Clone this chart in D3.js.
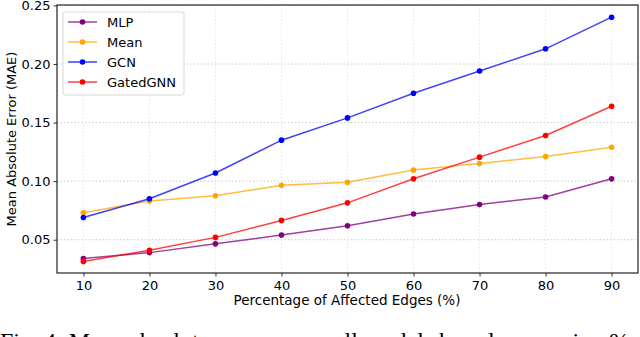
<!DOCTYPE html>
<html>
<head>
<meta charset="utf-8">
<script src="https://cdn.jsdelivr.net/npm/d3@7"></script>
<style>
  body { margin: 0; background: #fff; }
  svg { display: block; }
</style>
</head>
<body>
<div id="chart"></div>
<script>
var edges = [10, 20, 30, 40, 50, 60, 70, 80, 90];
var mlp = [0.034, 0.039, 0.0465, 0.054, 0.062, 0.072, 0.080, 0.0865, 0.102];
var mean = [0.073, 0.083, 0.0875, 0.0965, 0.099, 0.1095, 0.115, 0.121, 0.129];
var gcn = [0.069, 0.085, 0.107, 0.135, 0.154, 0.175, 0.194, 0.213, 0.240];
var gated = [0.0315, 0.041, 0.052, 0.0665, 0.0815, 0.102, 0.1205, 0.139, 0.164];
var seriesNames = ["MLP", "Mean", "GCN", "GatedGNN"];
var seriesColors = ["#800080", "#ffa500", "#0000ff", "#ff0000"];
var yTicks = [0.05, 0.10, 0.15, 0.20, 0.25];

var width = 640, height = 337;
var mLeft = 57, mRight = 638, mTop = 5, mBottom = 273;

var svg = d3.select("#chart").append("svg")
  .attr("width", width).attr("height", height)
  .style("font-family", "DejaVu Sans");

var x = d3.scaleLinear().domain([6, 94]).range([mLeft, mRight]);
var y = d3.scaleLinear().domain([0.0216, 0.2504]).range([mBottom, mTop]);

// grid
svg.append("g").selectAll("line").data(yTicks).enter().append("line")
  .attr("x1", mLeft).attr("x2", mRight)
  .attr("y1", function(d) { return y(d); }).attr("y2", function(d) { return y(d); })
  .attr("stroke", "#cccccc").attr("stroke-width", 1).attr("stroke-dasharray", "1.5,2");
svg.append("g").selectAll("line").data(edges).enter().append("line")
  .attr("y1", mTop).attr("y2", mBottom)
  .attr("x1", function(d) { return x(d); }).attr("x2", function(d) { return x(d); })
  .attr("stroke", "#e6e6e6").attr("stroke-width", 1).attr("stroke-dasharray", "1.5,2");

// axes
var xAxis = svg.append("g").attr("transform", "translate(0," + mBottom + ")")
  .call(d3.axisBottom(x).tickValues(edges).tickSize(3.5).tickPadding(4));
var yAxis = svg.append("g").attr("transform", "translate(" + mLeft + ",0)")
  .call(d3.axisLeft(y).tickValues(yTicks).tickFormat(d3.format(".2f")).tickSize(3.5).tickPadding(3));
[xAxis, yAxis].forEach(function(a) {
  a.select(".domain").remove();
  a.selectAll("text").attr("font-size", "13px").attr("fill", "#000").style("font-family", "DejaVu Sans");
  a.selectAll("line").attr("stroke", "#333");
});

var data = [mlp, mean, gcn, gated];
var line = d3.line()
  .x(function(d, i) { return x(edges[i]); })
  .y(function(d) { return y(d); });

data.forEach(function(vals, k) {
  var g = svg.append("g");
  g.append("path").datum(vals)
    .attr("d", line)
    .attr("fill", "none")
    .attr("stroke", seriesColors[k])
    .attr("stroke-width", 1.5)
    .attr("stroke-opacity", 0.75);
  g.selectAll("circle").data(vals).enter().append("circle")
    .attr("cx", function(d, i) { return x(edges[i]); })
    .attr("cy", function(d) { return y(d); })
    .attr("r", 2.8)
    .attr("fill", seriesColors[k]);
});

// frame
svg.append("rect")
  .attr("x", mLeft).attr("y", mTop)
  .attr("width", mRight - mLeft).attr("height", mBottom - mTop)
  .attr("fill", "none").attr("stroke", "#222").attr("stroke-width", 1.2);

// legend
var lg = svg.append("g");
lg.append("rect")
  .attr("x", 63).attr("y", 12).attr("width", 121).attr("height", 83)
  .attr("rx", 2).attr("fill", "#fff").attr("fill-opacity", 0.85)
  .attr("stroke", "#d8d8d8");
seriesNames.forEach(function(name, i) {
  var ly = 22 + i * 20;
  lg.append("line").attr("x1", 68).attr("x2", 97).attr("y1", ly).attr("y2", ly)
    .attr("stroke", seriesColors[i]).attr("stroke-width", 1.5).attr("stroke-opacity", 0.75);
  lg.append("circle").attr("cx", 82.5).attr("cy", ly).attr("r", 2.8).attr("fill", seriesColors[i]);
  lg.append("text").attr("x", 107).attr("y", ly + 4.5)
    .attr("font-size", "13px").text(name);
});

// axis titles
svg.append("text")
  .attr("x", 347).attr("y", 305)
  .attr("text-anchor", "middle").attr("font-size", "13.5px")
  .text("Percentage of Affected Edges (%)");
svg.append("text")
  .attr("transform", "translate(16," + ((mTop + mBottom) / 2) + ") rotate(-90)")
  .attr("text-anchor", "middle").attr("font-size", "13px")
  .text("Mean Absolute Error (MAE)");

// caption (cut off at the bottom of the picture)
svg.append("text")
  .attr("x", 0).attr("y", 349)
  .attr("font-size", "24px").style("font-family", "Liberation Serif")
  .text("Fig. 4: Mean absolute error across all models based on varying %");
</script>
</body>
</html>
